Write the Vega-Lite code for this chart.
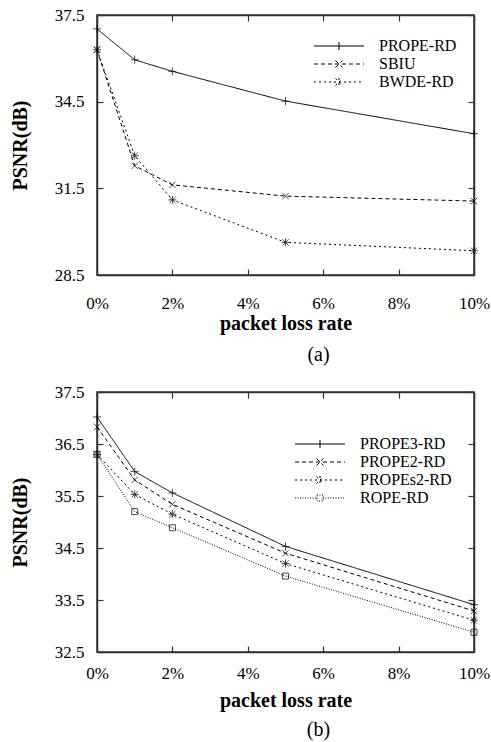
{
  "$schema": "https://vega.github.io/schema/vega-lite/v6.json",
  "padding": {"left": 9, "top": 5, "right": 10, "bottom": 0},
  "background": "white",
  "datasets": {
    "a": [
      {"series": "PROPE-RD", "loss": 0, "psnr": 37.02},
      {"series": "PROPE-RD", "loss": 1, "psnr": 35.95},
      {"series": "PROPE-RD", "loss": 2, "psnr": 35.55},
      {"series": "PROPE-RD", "loss": 5, "psnr": 34.52},
      {"series": "PROPE-RD", "loss": 10, "psnr": 33.39},
      {"series": "SBIU", "loss": 0, "psnr": 36.3},
      {"series": "SBIU", "loss": 1, "psnr": 32.28},
      {"series": "SBIU", "loss": 2, "psnr": 31.62},
      {"series": "SBIU", "loss": 5, "psnr": 31.23},
      {"series": "SBIU", "loss": 10, "psnr": 31.06},
      {"series": "BWDE-RD", "loss": 0, "psnr": 36.3},
      {"series": "BWDE-RD", "loss": 1, "psnr": 32.63},
      {"series": "BWDE-RD", "loss": 2, "psnr": 31.1},
      {"series": "BWDE-RD", "loss": 5, "psnr": 29.63},
      {"series": "BWDE-RD", "loss": 10, "psnr": 29.34}
    ],
    "b": [
      {"series": "PROPE3-RD", "loss": 0, "psnr": 37.02},
      {"series": "PROPE3-RD", "loss": 1, "psnr": 35.97},
      {"series": "PROPE3-RD", "loss": 2, "psnr": 35.56},
      {"series": "PROPE3-RD", "loss": 5, "psnr": 34.53},
      {"series": "PROPE3-RD", "loss": 10, "psnr": 33.41},
      {"series": "PROPE2-RD", "loss": 0, "psnr": 36.83},
      {"series": "PROPE2-RD", "loss": 1, "psnr": 35.81},
      {"series": "PROPE2-RD", "loss": 2, "psnr": 35.34},
      {"series": "PROPE2-RD", "loss": 5, "psnr": 34.4},
      {"series": "PROPE2-RD", "loss": 10, "psnr": 33.29},
      {"series": "PROPEs2-RD", "loss": 0, "psnr": 36.3},
      {"series": "PROPEs2-RD", "loss": 1, "psnr": 35.53},
      {"series": "PROPEs2-RD", "loss": 2, "psnr": 35.15},
      {"series": "PROPEs2-RD", "loss": 5, "psnr": 34.2},
      {"series": "PROPEs2-RD", "loss": 10, "psnr": 33.11},
      {"series": "ROPE-RD", "loss": 0, "psnr": 36.3},
      {"series": "ROPE-RD", "loss": 1, "psnr": 35.2},
      {"series": "ROPE-RD", "loss": 2, "psnr": 34.89},
      {"series": "ROPE-RD", "loss": 5, "psnr": 33.96},
      {"series": "ROPE-RD", "loss": 10, "psnr": 32.88}
    ]
  },
  "spacing": 16,
  "resolve": {
    "scale": {"shape": "independent", "strokeDash": "independent", "x": "independent", "y": "independent"},
    "legend": {"shape": "independent", "strokeDash": "independent"},
    "axis": {"x": "independent", "y": "independent"}
  },
  "vconcat": [
    {
      "width": 377,
      "height": 260,
      "view": {"stroke": "#333333", "strokeWidth": 1.5},
      "data": {"name": "a"},
      "title": {"text": "(a)", "orient": "bottom", "fontSize": 20, "fontWeight": "normal", "font": "Liberation Serif", "dx": 33, "offset": 12, "color": "black"},
      "resolve": {"scale": {"shape": "independent", "strokeDash": "independent"}},
      "layer": [
        {
          "mark": {"type": "line", "stroke": "black", "strokeWidth": 1},
          "encoding": {
            "x": {"field": "loss", "type": "quantitative", "scale": {"domain": [0, 10], "nice": false},
              "axis": {"orient": "bottom", "values": [0, 2, 4, 6, 8, 10], "labelExpr": "datum.value + '%'", "title": "packet loss rate",
                "domain": true, "domainColor": "#333333", "domainWidth": 1.5, "grid": false, "ticks": true, "tickSize": -6, "tickColor": "#333333", "tickWidth": 1.2, "labelPadding": 26, "titlePadding": 2, "labelFlush": false}},
            "y": {"field": "psnr", "type": "quantitative", "scale": {"domain": [28.5, 37.5], "nice": false, "zero": false},
              "axis": {"orient": "left", "values": [28.5, 31.5, 34.5, 37.5], "format": ".1f", "title": "PSNR(dB)",
                "domain": true, "domainColor": "#333333", "domainWidth": 1.5, "grid": false, "ticks": true, "tickSize": -6, "tickColor": "#333333", "tickWidth": 1.2, "labelPadding": 19, "titlePadding": 24}},
            "strokeDash": {"field": "series", "type": "nominal",
              "scale": {"domain": ["PROPE-RD", "SBIU", "BWDE-RD"], "range": [[1, 0], [4, 3], [2, 3]]}, "legend": null}
          }
        },
        {
          "mark": {"type": "point", "filled": false, "stroke": "black", "strokeWidth": 1, "size": 64},
          "encoding": {
            "x": {"field": "loss", "type": "quantitative", "axis": {"orient": "top", "values": [0, 2, 4, 6, 8, 10], "labels": false, "title": null,
              "domain": true, "domainColor": "#333333", "domainWidth": 1.5, "grid": false, "ticks": true, "tickSize": -6, "tickColor": "#333333", "tickWidth": 1.2}},
            "y": {"field": "psnr", "type": "quantitative", "axis": {"orient": "right", "values": [28.5, 31.5, 34.5, 37.5], "labels": false, "title": null,
              "domain": true, "domainColor": "#333333", "domainWidth": 1.5, "grid": false, "ticks": true, "tickSize": -6, "tickColor": "#333333", "tickWidth": 1.2}},
            "shape": {"field": "series", "type": "nominal",
              "scale": {"domain": ["PROPE-RD", "SBIU", "BWDE-RD"], "range": ["M-1,0L1,0M0,-1L0,1", "M-0.8,-0.8L0.8,0.8M-0.8,0.8L0.8,-0.8", "M-1,0L1,0M0,-1L0,1M-0.8,-0.8L0.8,0.8M-0.8,0.8L0.8,-0.8"]},
              "legend": null}
          }
        },
        {
          "mark": {"type": "point", "filled": false, "stroke": "black", "strokeWidth": 1, "strokeOpacity": 0},
          "encoding": {
            "x": {"field": "loss", "type": "quantitative", "axis": null},
            "y": {"field": "psnr", "type": "quantitative", "axis": null},
            "shape": {"field": "series", "type": "nominal",
              "scale": {"domain": ["PROPE-RD", "SBIU", "BWDE-RD"], "range": ["M-5,0L5,0M0,-0.8L0,0.8", "M-5,0L5,0M-0.7,-0.7L0.7,0.7M-0.7,0.7L0.7,-0.7", "M-5,0L5,0M0,-0.8L0,0.8M-0.7,-0.7L0.7,0.7M-0.7,0.7L0.7,-0.7"]},
              "legend": {"title": null, "orient": "none", "legendX": 234, "legendY": 23,
                "symbolSize": 100, "symbolOpacity": 1, "symbolStrokeColor": "black", "symbolStrokeWidth": 1,
                "labelOffset": 32, "rowPadding": 2, "labelFontSize": 16, "labelFont": "Liberation Serif", "labelColor": "black"}},
            "strokeDash": {"field": "series", "type": "nominal",
              "scale": {"domain": ["PROPE-RD", "SBIU", "BWDE-RD"], "range": [[1, 0], [4, 3], [2, 3]]},
              "legend": {"title": null, "orient": "none", "legendX": 234, "legendY": 23,
                "symbolSize": 100, "symbolOpacity": 1, "symbolStrokeColor": "black", "symbolStrokeWidth": 1,
                "labelOffset": 32, "rowPadding": 2, "labelFontSize": 16, "labelFont": "Liberation Serif", "labelColor": "black"}}
          }
        }
      ]
    },
    {
      "width": 377,
      "height": 260,
      "view": {"stroke": "#333333", "strokeWidth": 1.5},
      "data": {"name": "b"},
      "title": {"text": "(b)", "orient": "bottom", "fontSize": 20, "fontWeight": "normal", "font": "Liberation Serif", "dx": 33, "offset": 10, "color": "black"},
      "resolve": {"scale": {"shape": "independent", "strokeDash": "independent"}},
      "layer": [
        {
          "mark": {"type": "line", "stroke": "black", "strokeWidth": 1},
          "encoding": {
            "x": {"field": "loss", "type": "quantitative", "scale": {"domain": [0, 10], "nice": false},
              "axis": {"orient": "bottom", "values": [0, 2, 4, 6, 8, 10], "labelExpr": "datum.value + '%'", "title": "packet loss rate",
                "domain": true, "domainColor": "#333333", "domainWidth": 1.5, "grid": false, "ticks": true, "tickSize": -6, "tickColor": "#333333", "tickWidth": 1.2, "labelPadding": 19, "titlePadding": 9, "labelFlush": false}},
            "y": {"field": "psnr", "type": "quantitative", "scale": {"domain": [32.5, 37.5], "nice": false, "zero": false},
              "axis": {"orient": "left", "values": [32.5, 33.5, 34.5, 35.5, 36.5, 37.5], "format": ".1f", "title": "PSNR(dB)",
                "domain": true, "domainColor": "#333333", "domainWidth": 1.5, "grid": false, "ticks": true, "tickSize": -6, "tickColor": "#333333", "tickWidth": 1.2, "labelPadding": 19, "titlePadding": 24}},
            "strokeDash": {"field": "series", "type": "nominal",
              "scale": {"domain": ["PROPE3-RD", "PROPE2-RD", "PROPEs2-RD", "ROPE-RD"], "range": [[1, 0], [4, 3], [2, 3], [1, 1.5]]}, "legend": null}
          }
        },
        {
          "mark": {"type": "point", "filled": false, "stroke": "black", "strokeWidth": 1, "size": 64},
          "encoding": {
            "x": {"field": "loss", "type": "quantitative", "axis": {"orient": "top", "values": [0, 2, 4, 6, 8, 10], "labels": false, "title": null,
              "domain": true, "domainColor": "#333333", "domainWidth": 1.5, "grid": false, "ticks": true, "tickSize": -6, "tickColor": "#333333", "tickWidth": 1.2}},
            "y": {"field": "psnr", "type": "quantitative", "axis": {"orient": "right", "values": [32.5, 33.5, 34.5, 35.5, 36.5, 37.5], "labels": false, "title": null,
              "domain": true, "domainColor": "#333333", "domainWidth": 1.5, "grid": false, "ticks": true, "tickSize": -6, "tickColor": "#333333", "tickWidth": 1.2}},
            "shape": {"field": "series", "type": "nominal",
              "scale": {"domain": ["PROPE3-RD", "PROPE2-RD", "PROPEs2-RD", "ROPE-RD"], "range": ["M-1,0L1,0M0,-1L0,1", "M-0.8,-0.8L0.8,0.8M-0.8,0.8L0.8,-0.8", "M-1,0L1,0M0,-1L0,1M-0.8,-0.8L0.8,0.8M-0.8,0.8L0.8,-0.8", "M-0.75,-0.75L0.75,-0.75L0.75,0.75L-0.75,0.75Z"]},
              "legend": null}
          }
        },
        {
          "mark": {"type": "point", "filled": false, "stroke": "black", "strokeWidth": 1, "strokeOpacity": 0},
          "encoding": {
            "x": {"field": "loss", "type": "quantitative", "axis": null},
            "y": {"field": "psnr", "type": "quantitative", "axis": null},
            "shape": {"field": "series", "type": "nominal",
              "scale": {"domain": ["PROPE3-RD", "PROPE2-RD", "PROPEs2-RD", "ROPE-RD"], "range": ["M-5,0L5,0M0,-0.8L0,0.8", "M-5,0L5,0M-0.7,-0.7L0.7,0.7M-0.7,0.7L0.7,-0.7", "M-5,0L5,0M0,-0.8L0,0.8M-0.7,-0.7L0.7,0.7M-0.7,0.7L0.7,-0.7", "M-5,0L-0.6,0M0.6,0L5,0M-0.6,-0.6L0.6,-0.6L0.6,0.6L-0.6,0.6Z"]},
              "legend": {"title": null, "orient": "none", "legendX": 215, "legendY": 44,
                "symbolSize": 100, "symbolOpacity": 1, "symbolStrokeColor": "black", "symbolStrokeWidth": 1,
                "labelOffset": 32, "rowPadding": 2, "labelFontSize": 16, "labelFont": "Liberation Serif", "labelColor": "black"}},
            "strokeDash": {"field": "series", "type": "nominal",
              "scale": {"domain": ["PROPE3-RD", "PROPE2-RD", "PROPEs2-RD", "ROPE-RD"], "range": [[1, 0], [4, 3], [2, 3], [1, 1.5]]},
              "legend": {"title": null, "orient": "none", "legendX": 215, "legendY": 44,
                "symbolSize": 100, "symbolOpacity": 1, "symbolStrokeColor": "black", "symbolStrokeWidth": 1,
                "labelOffset": 32, "rowPadding": 2, "labelFontSize": 16, "labelFont": "Liberation Serif", "labelColor": "black"}}
          }
        }
      ]
    }
  ],
  "config": {
    "font": "Liberation Serif",
    "axis": {
      "labelFont": "Liberation Serif", "labelFontSize": 17, "labelColor": "black",
      "titleFont": "Liberation Serif", "titleFontSize": 20, "titleFontWeight": "bold", "titleColor": "black"
    }
  }
}
